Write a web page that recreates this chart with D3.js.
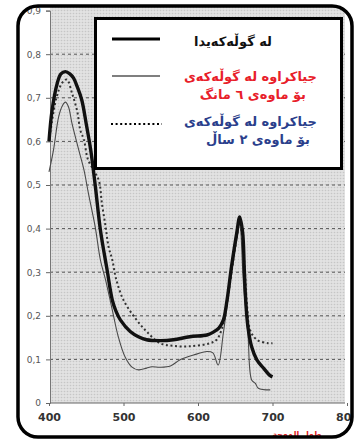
<!DOCTYPE html>
<html>
<head>
<meta charset="utf-8">
<script src="https://cdn.jsdelivr.net/npm/d3@7"></script>
<style>
  html, body { margin: 0; padding: 0; background: #fff; }
  svg { display: block; }
</style>
</head>
<body>
<div id="chart"></div>
<script>
// wavelength (nm) / absorbance
const wlFlower  = [400, 404, 411, 416, 422, 428, 433, 438, 444, 450, 456, 462, 469, 478, 485, 490, 496, 509, 520, 531, 550, 567, 589, 612, 620, 628, 634, 639, 645, 652, 656, 660, 662, 664, 667, 672, 679, 688, 696, 700];
const absFlower = [0.6, 0.67, 0.733, 0.755, 0.76, 0.755, 0.745, 0.725, 0.695, 0.64, 0.58, 0.5, 0.397, 0.305, 0.236, 0.21, 0.19, 0.164, 0.152, 0.145, 0.143, 0.145, 0.152, 0.156, 0.162, 0.172, 0.19, 0.236, 0.313, 0.39, 0.427, 0.39, 0.313, 0.236, 0.175, 0.129, 0.099, 0.08, 0.064, 0.06];

const wl6m  = [400, 406, 413, 418, 422, 426, 431, 440, 447, 453, 462, 469, 476, 485, 493, 502, 511, 520, 531, 538, 549, 563, 576, 594, 612, 620, 627, 634, 643, 652, 656, 661, 667, 672, 677, 681, 697];
const abs6m = [0.53, 0.58, 0.657, 0.682, 0.69, 0.68, 0.64, 0.58, 0.534, 0.48, 0.404, 0.328, 0.282, 0.213, 0.152, 0.106, 0.083, 0.076, 0.08, 0.083, 0.082, 0.085, 0.099, 0.11, 0.118, 0.115, 0.087, 0.16, 0.275, 0.374, 0.41, 0.275, 0.16, 0.053, 0.045, 0.034, 0.03];

const wl2y  = [400, 410, 418, 424, 431, 438, 442, 447, 452, 460, 467, 471, 476, 480, 485, 490, 500, 516, 531, 549, 567, 589, 616, 625, 632, 639, 645, 652, 656, 660, 663, 666, 670, 679, 694, 700];
const abs2y = [0.6, 0.7, 0.735, 0.742, 0.71, 0.668, 0.626, 0.603, 0.56, 0.534, 0.51, 0.458, 0.404, 0.358, 0.328, 0.285, 0.236, 0.194, 0.164, 0.137, 0.131, 0.13, 0.137, 0.145, 0.17, 0.23, 0.3, 0.38, 0.415, 0.37, 0.3, 0.22, 0.167, 0.145, 0.137, 0.137];

const xTicks = [400, 500, 600, 700, 800];
const yTicks = [0, 0.1, 0.2, 0.3, 0.4, 0.5, 0.6, 0.7, 0.8, 0.9];

const legendTitle = "لە گوڵەکەیدا";
const legend6m = ["جیاکراوە لە گوڵەکەی", "بۆ ماوەی ٦ مانگ"];
const legend2y = ["جیاکراوە لە گوڵەکەی", "بۆ ماوەی ٢ ساڵ"];
const xTitle = "طول الموجة";

const width = 357, height = 441;

const svg = d3.select("#chart").append("svg")
    .attr("width", width).attr("height", height);

const defs = svg.append("defs");
const pat = defs.append("pattern").attr("id", "halftone")
    .attr("width", 3).attr("height", 3).attr("patternUnits", "userSpaceOnUse");
pat.append("rect").attr("width", 3).attr("height", 3).attr("fill", "#e2e2e2");
pat.append("circle").attr("cx", 1.5).attr("cy", 1.5).attr("r", 0.8).attr("fill", "#c6c6c6");

defs.append("clipPath").attr("id", "frameClip")
    .append("rect").attr("x", 18).attr("y", 6).attr("width", 334).attr("height", 431).attr("rx", 20);

const x = d3.scaleLinear().domain([400, 800]).range([49, 347]);
const y = d3.scaleLinear().domain([0, 0.9]).range([403, 10.6]);

const g = svg.append("g").attr("clip-path", "url(#frameClip)");

// plot background
g.append("rect")
    .attr("x", 50).attr("y", 6)
    .attr("width", 345 - 50).attr("height", y(0) - 6)
    .attr("fill", "url(#halftone)");

// dashed grid
g.selectAll(".grid").data(yTicks.filter(d => d > 0 && d < 0.9))
    .join("line")
    .attr("class", "grid")
    .attr("x1", 50).attr("x2", 345)
    .attr("y1", d => y(d)).attr("y2", d => y(d))
    .attr("stroke", "#555").attr("stroke-width", 1)
    .attr("stroke-dasharray", "3,3");

// axes
const yAxis = g.append("g").attr("transform", "translate(50,0)")
    .call(d3.axisLeft(y).tickValues(yTicks).tickSize(4).tickPadding(5)
        .tickFormat(d => d === 0 ? "0" : d3.format(".1f")(d).replace(".", ",")));
yAxis.select(".domain").attr("stroke", "#777");
yAxis.selectAll(".tick line").attr("stroke", "#666");
yAxis.selectAll("text").attr("fill", "#555").style("font", "9px 'DejaVu Sans', sans-serif");

const xAxis = g.append("g").attr("transform", `translate(0,${y(0)})`)
    .call(d3.axisBottom(x).tickValues(xTicks).tickSize(3).tickPadding(7));
xAxis.select(".domain").attr("stroke", "#666").attr("d", `M50,0H345`);
xAxis.selectAll(".tick line").attr("stroke", "#666");
xAxis.selectAll("text").attr("fill", "#333").style("font", "bold 11px 'DejaVu Sans', sans-serif");

g.append("text")
    .attr("x", 297).attr("y", 437)
    .attr("text-anchor", "middle")
    .attr("fill", "#e02020")
    .style("font", "bold 8px 'DejaVu Sans', sans-serif")
    .text(xTitle);

// curves
const line = d3.line()
    .x(d => x(d[0])).y(d => y(d[1]))
    .curve(d3.curveCatmullRom.alpha(0.5));

const series = [
    {wl: wl6m, ab: abs6m, w: 1.1, dash: null, color: "#4a4a4a"},
    {wl: wl2y, ab: abs2y, w: 2, dash: "2,2.6", color: "#333"},
    {wl: wlFlower, ab: absFlower, w: 3.4, dash: null, color: "#111"}
];
series.forEach(s => {
    g.append("path")
        .datum(d3.zip(s.wl, s.ab))
        .attr("d", line)
        .attr("fill", "none")
        .attr("stroke", s.color)
        .attr("stroke-width", s.w)
        .attr("stroke-dasharray", s.dash)
        .attr("stroke-linejoin", "round");
});

// legend
const lg = g.append("g");
lg.append("rect")
    .attr("x", 95.5).attr("y", 18.5).attr("width", 246).attr("height", 150)
    .attr("fill", "#fff").attr("stroke", "#000").attr("stroke-width", 3);

lg.append("line").attr("x1", 112).attr("x2", 160).attr("y1", 39).attr("y2", 39)
    .attr("stroke", "#000").attr("stroke-width", 3);
lg.append("line").attr("x1", 112).attr("x2", 160).attr("y1", 76).attr("y2", 76)
    .attr("stroke", "#000").attr("stroke-width", 1.2);
lg.append("line").attr("x1", 111).attr("x2", 162).attr("y1", 124).attr("y2", 124)
    .attr("stroke", "#000").attr("stroke-width", 2).attr("stroke-dasharray", "2,2.6");

const legendFont = "bold 13px 'DejaVu Sans', sans-serif";
const legendRows = [
    {t: legendTitle, x: 272, y: 46, c: "#111"},
    {t: legend6m[0], x: 317, y: 81, c: "#e8202a"},
    {t: legend6m[1], x: 306, y: 99, c: "#e8202a"},
    {t: legend2y[0], x: 317, y: 126, c: "#2b3f8c"},
    {t: legend2y[1], x: 310, y: 144, c: "#2b3f8c"}
];
lg.selectAll(".lt").data(legendRows).join("text")
    .attr("class", "lt")
    .attr("x", d => d.x).attr("y", d => d.y)
    .attr("text-anchor", "end")
    .attr("fill", d => d.c)
    .style("font", legendFont)
    .text(d => d.t);

// outer rounded frame
svg.append("rect")
    .attr("x", 18).attr("y", 6).attr("width", 334).attr("height", 431).attr("rx", 20)
    .attr("fill", "none").attr("stroke", "#000").attr("stroke-width", 3.5);
</script>
</body>
</html>
